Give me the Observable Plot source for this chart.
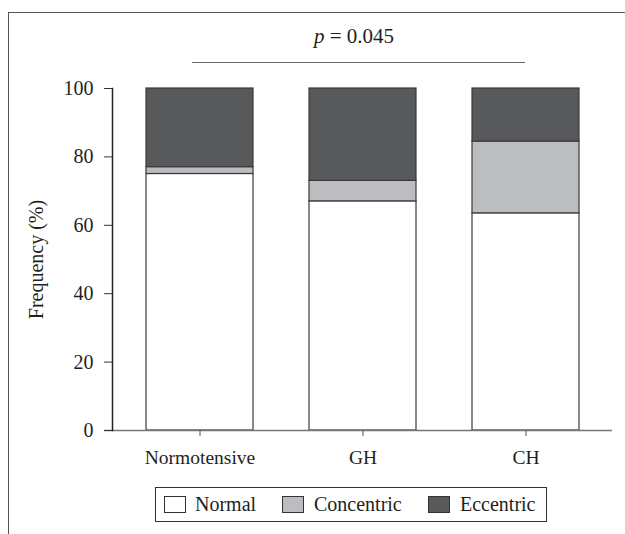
<!DOCTYPE html>
<html>
<head>
<meta charset="utf-8">
<script src="https://cdn.jsdelivr.net/npm/d3@7"></script>
<script src="https://cdn.jsdelivr.net/npm/@observablehq/plot@0.6"></script>
<style>
  html, body { margin: 0; padding: 0; background: #fff; }
  body { width: 625px; height: 534px; position: relative; overflow: hidden; font-family: "Liberation Serif", serif; color: #231f20; }
  #frame { position: absolute; left: 8px; top: 12px; width: 640px; height: 560px; border-left: 1.5px solid #555; border-top: 1.5px solid #555; }
  #chart { position: absolute; left: 0; top: 0; }
  #ptext { position: absolute; left: 0; width: 708px; top: 24px; text-align: center; font-size: 21px; }
  #pline { position: absolute; left: 192px; top: 62px; width: 333px; height: 0; border-top: 1.5px solid #666; }
  #legend { position: absolute; left: 155px; top: 487px; width: 392px; height: 35px; border: 1px solid #333; box-sizing: border-box; font-size: 20px; }
  .sw { position: absolute; top: 8px; width: 22px; height: 17px; border: 1px solid #333; box-sizing: border-box; }
  .lab { position: absolute; top: 5px; line-height: 22px; white-space: nowrap; }
</style>
</head>
<body>
<div id="frame"></div>
<div id="chart"></div>
<div id="ptext"><i>p</i>&nbsp;= 0.045</div>
<div id="pline"></div>
<div id="legend"></div>
<script>
const groups = ["Normotensive", "GH", "CH"];
const types = ["Normal", "Concentric", "Eccentric"];
const normal = [75, 67, 63.5];
const concentric = [2, 6, 21];
const eccentric = [23, 27, 15.5];
const colors = ["#ffffff", "#bcbdc0", "#58595b"];
const yTicks = [0, 20, 40, 60, 80, 100];

const series = [normal, concentric, eccentric];
const data = [];
groups.forEach((g, i) => {
  types.forEach((t, j) => data.push({group: g, type: t, value: series[j][i]}));
});

const chart = Plot.plot({
  width: 625,
  height: 470,
  marginLeft: 112,
  marginRight: 13,
  marginTop: 88,
  marginBottom: 40,
  style: {fontFamily: "'Liberation Serif', serif", fontSize: "19px", color: "#231f20", background: "transparent"},
  x: {domain: groups, paddingInner: 0.345, paddingOuter: 0.197},
  y: {domain: [0, 100]},
  color: {domain: types, range: colors},
  marks: [
    Plot.barY(data, {x: "group", y: "value", fill: "type", stroke: "#3a3a3a", strokeWidth: 1.2, order: types}),
    Plot.ruleY([0], {stroke: "#777", strokeWidth: 1.5, insetLeft: -8}),
    Plot.frame({anchor: "left", stroke: "#222", strokeWidth: 1.5}),
    Plot.axisY({ticks: yTicks, tickSize: 8, tickPadding: 11, fontSize: 20, label: null, stroke: "#333"}),
    Plot.axisY({ticks: [], tickSize: 0, fontSize: 20, label: "Frequency (%)", labelAnchor: "center", labelOffset: 84, labelArrow: "none"}),
    Plot.axisX({tickSize: 6, tickPadding: 14, fontSize: 19.5, label: null, stroke: "#555"})
  ]
});
document.getElementById("chart").appendChild(chart);

const legend = document.getElementById("legend");
const swLeft = [8, 126, 272];
const labLeft = [39, 158, 304];
types.forEach((t, j) => {
  const sw = document.createElement("div");
  sw.className = "sw";
  sw.style.left = swLeft[j] + "px";
  sw.style.background = colors[j];
  const lab = document.createElement("span");
  lab.className = "lab";
  lab.style.left = labLeft[j] + "px";
  lab.textContent = t;
  legend.appendChild(sw);
  legend.appendChild(lab);
});
</script>
</body>
</html>
